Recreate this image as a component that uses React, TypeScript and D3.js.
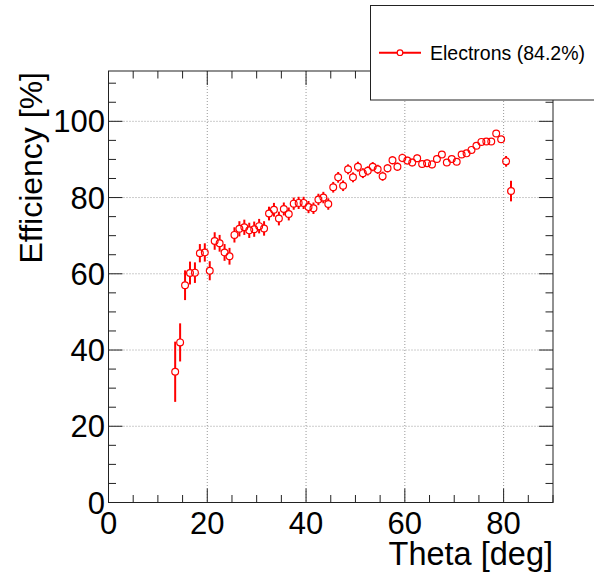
import React from "react";
import * as d3 from "d3";

const theta = [13.5, 14.5, 15.5, 16.5, 17.5, 18.5, 19.5, 20.5, 21.5, 22.5, 23.5, 24.5, 25.5, 26.5, 27.5, 28.5, 29.5, 30.5, 31.5, 32.5, 33.5, 34.5, 35.5, 36.5, 37.5, 38.5, 39.5, 40.5, 41.5, 42.5, 43.5, 44.5, 45.5, 46.5, 47.5, 48.5, 49.5, 50.5, 51.5, 52.5, 53.5, 54.5, 55.5, 56.5, 57.5, 58.5, 59.5, 60.5, 61.5, 62.5, 63.5, 64.5, 65.5, 66.5, 67.5, 68.5, 69.5, 70.5, 71.5, 72.5, 73.5, 74.5, 75.5, 76.5, 77.5, 78.5, 79.5, 80.5, 81.5];
const efficiency = [34.3, 42.0, 57.0, 60.2, 60.3, 65.4, 65.6, 60.8, 68.6, 68.0, 65.6, 64.6, 70.2, 71.8, 72.2, 71.4, 71.7, 72.5, 71.9, 75.8, 76.8, 74.5, 77.0, 75.7, 78.4, 78.6, 78.6, 77.5, 77.2, 79.5, 80.0, 78.3, 82.7, 85.3, 83.1, 87.4, 85.3, 88.1, 86.4, 87.0, 88.1, 87.4, 85.6, 87.7, 89.8, 88.1, 90.4, 89.7, 89.2, 90.3, 88.8, 89.0, 88.7, 90.1, 91.3, 89.2, 90.1, 89.4, 91.3, 91.6, 92.5, 93.6, 94.6, 94.7, 94.7, 96.8, 95.3, 89.5, 81.7];
const errors = [7.9, 5.0, 3.9, 3.0, 2.7, 2.4, 2.4, 2.5, 2.3, 2.2, 2.2, 2.2, 2.0, 2.0, 2.0, 2.0, 2.0, 1.9, 1.9, 1.8, 1.8, 1.8, 1.7, 1.7, 1.6, 1.6, 1.6, 1.6, 1.5, 1.5, 1.5, 1.5, 1.4, 1.4, 1.4, 1.3, 1.3, 1.3, 1.3, 1.2, 1.2, 1.2, 1.2, 1.1, 1.1, 1.1, 1.1, 1.0, 1.0, 1.0, 1.0, 1.0, 1.0, 1.0, 0.9, 0.9, 0.9, 0.9, 0.9, 0.8, 0.8, 0.8, 0.7, 0.7, 0.7, 0.8, 0.9, 1.4, 2.7];
const xMajorTicks = [0, 20, 40, 60, 80];
const yMajorTicks = [0, 20, 40, 60, 80, 100];
const legendLabel = "Electrons (84.2%)";
const xTitle = "Theta [deg]";
const yTitle = "Efficiency [%]";

const W = 594, H = 574;
const L = 108.5, R = 553, T = 71, B = 502.5;
const FONT = "'Liberation Sans', Arial, Helvetica, sans-serif";
const RED = "#ff0000";

export default function App() {
  const x = d3.scaleLinear().domain([0, 90]).range([L, R]);
  const y = d3.scaleLinear().domain([0, 113.2]).range([B, T]);
  const xMinor = d3.range(0, 90.01, 5);
  const yMinor = d3.range(0, 113.2, 5);
  const majLen = 14, minLen = 7.5;
  const r = 3.4;
  const pts = theta.map((t, i) => ({ t, v: efficiency[i], e: errors[i] }));

  return (
    <svg width={W} height={H} style={{ position: "absolute", left: 0, top: 0, background: "#fff" }}>
      <rect x={0} y={0} width={W} height={H} fill="#fff" />
      {xMajorTicks.filter((d) => d > 0).map((d) => (
        <line key={"gx" + d} x1={x(d)} x2={x(d)} y1={T} y2={B} stroke="#999" strokeWidth={1} strokeDasharray="1,2" />
      ))}
      {yMajorTicks.filter((d) => d > 0).map((d) => (
        <line key={"gy" + d} x1={L} x2={R} y1={y(d)} y2={y(d)} stroke="#999" strokeWidth={1} strokeDasharray="1,2" />
      ))}
      {xMinor.map((d) => {
        const len = d % 20 === 0 ? majLen : minLen;
        return (
          <g key={"tx" + d}>
            <line x1={x(d)} x2={x(d)} y1={B} y2={B - len} stroke="#222" strokeWidth={1} />
            <line x1={x(d)} x2={x(d)} y1={T} y2={T + len} stroke="#222" strokeWidth={1} />
          </g>
        );
      })}
      {yMinor.map((d) => {
        const len = d % 20 === 0 ? majLen : minLen;
        return (
          <g key={"ty" + d}>
            <line x1={L} x2={L + len} y1={y(d)} y2={y(d)} stroke="#222" strokeWidth={1} />
            <line x1={R} x2={R - len} y1={y(d)} y2={y(d)} stroke="#222" strokeWidth={1} />
          </g>
        );
      })}
      <rect x={L} y={T} width={R - L} height={B - T} fill="none" stroke="#222" strokeWidth={1} />
      {xMajorTicks.map((d) => (
        <text key={"lx" + d} x={x(d)} y={534} textAnchor="middle" fontFamily={FONT} fontSize={31} fill="#000">{d}</text>
      ))}
      {yMajorTicks.map((d) => (
        <text key={"ly" + d} x={105} y={y(d)} dy="0.36em" textAnchor="end" fontFamily={FONT} fontSize={31} fill="#000">{d}</text>
      ))}
      <text x={R} y={565} textAnchor="end" fontFamily={FONT} fontSize={32.5} fill="#000">{xTitle}</text>
      <text transform={`translate(42,72) rotate(-90)`} textAnchor="end" fontFamily={FONT} fontSize={32} fill="#000">{yTitle}</text>
      {pts.map((p, i) => {
        const cx = x(p.t), cy = y(p.v);
        const top = y(p.v + p.e), bot = y(p.v - p.e);
        return (
          <g key={"p" + i}>
            {cy - r > top && <line x1={cx} x2={cx} y1={top} y2={cy - r} stroke={RED} strokeWidth={2} />}
            {bot > cy + r && <line x1={cx} x2={cx} y1={cy + r} y2={bot} stroke={RED} strokeWidth={2} />}
            <circle cx={cx} cy={cy} r={r} fill="none" stroke={RED} strokeWidth={1.2} />
          </g>
        );
      })}
      <rect x={370.5} y={5.5} width={240} height={94.5} fill="#fff" stroke="#222" strokeWidth={1} />
      <line x1={379} x2={421} y1={52.7} y2={52.7} stroke={RED} strokeWidth={2} />
      <circle cx={400} cy={52.7} r={2.8} fill="#fff" stroke={RED} strokeWidth={1.2} />
      <text x={430} y={59.5} fontFamily={FONT} fontSize={19.5} fill="#000">{legendLabel}</text>
    </svg>
  );
}
